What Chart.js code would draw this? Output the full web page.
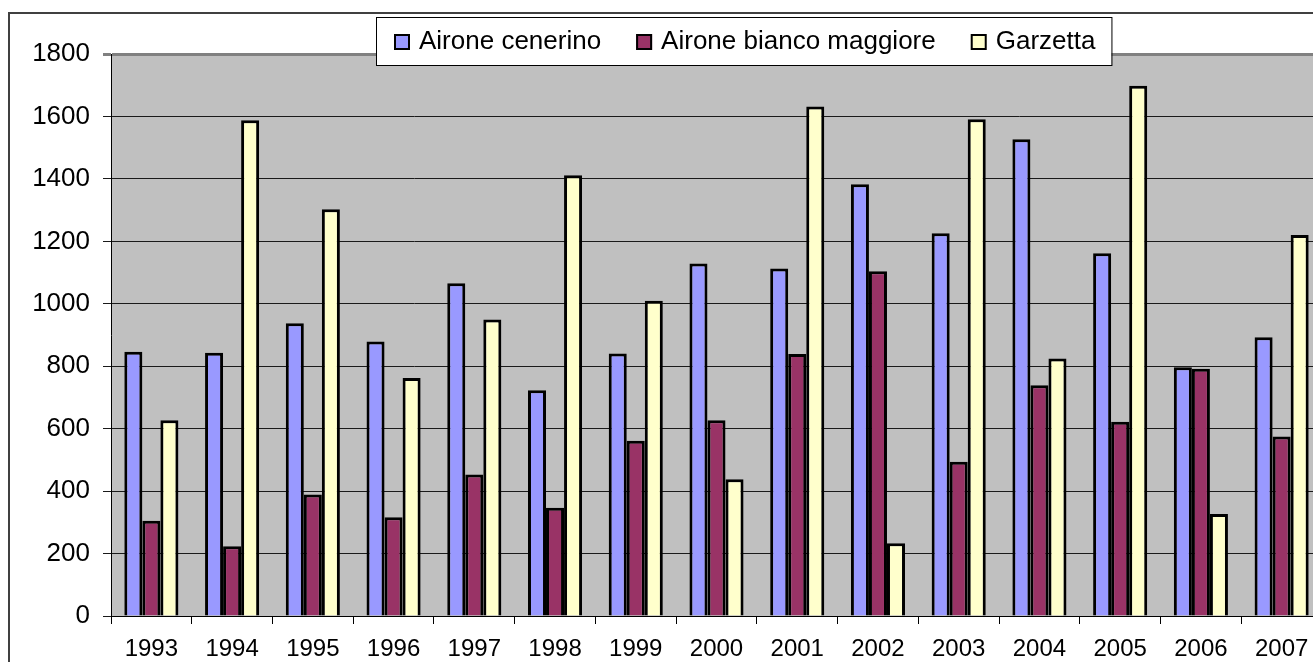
<!DOCTYPE html>
<html>
<head>
<meta charset="utf-8">
<script src="https://cdn.jsdelivr.net/npm/chart.js@4"></script>
<style>
  html, body { margin: 0; padding: 0; background: #fff; overflow: hidden; }
  #wrap { width: 1330px; height: 662px; }
</style>
</head>
<body>
<div id="wrap"><canvas id="heronChart" width="1330" height="662"></canvas></div>
<script>
const years = ["1993", "1994", "1995", "1996", "1997", "1998", "1999", "2000",
    "2001", "2002", "2003", "2004", "2005", "2006", "2007"];
const aironeCenerino = [846, 843, 938, 879, 1066, 723, 841, 1129, 1113, 1383, 1226, 1527, 1162, 797, 893];
const aironeBianco = [305, 223, 389, 316, 453, 347, 561, 627, 839, 1104, 494, 739, 622, 792, 575];
const garzetta = [627, 1588, 1303, 762, 950, 1412, 1010, 438, 1632, 233, 1591, 825, 1698, 327, 1220];
const yTicks = [0, 200, 400, 600, 800, 1000, 1200, 1400, 1600, 1800];

const FONT = "'Liberation Sans', Arial, sans-serif";

// outer frame + grey plot background
const backdrop = {
    id: "backdrop",
    beforeDraw(chart) {
        const ctx = chart.ctx;
        const a = chart.chartArea;
        ctx.save();
        ctx.strokeStyle = "#404040";
        ctx.lineWidth = 2;
        ctx.strokeRect(9, 13, 2000, 2000);
        ctx.fillStyle = "#c0c0c0";
        ctx.fillRect(a.left, a.top, a.right - a.left, a.bottom - a.top);
        ctx.restore();
    },
};

// Excel-style legend box sitting over the plot area
const boxLegend = {
    id: "boxLegend",
    afterDraw(chart) {
        const ctx = chart.ctx;
        const left = 376, top = 17, height = 48, box = 16;
        ctx.save();
        ctx.font = "26px " + FONT;
        ctx.textBaseline = "middle";
        let x = left + 18;
        const items = chart.data.datasets.map(ds => {
            const it = { ds, x };
            x += box + 9 + ctx.measureText(ds.label).width + 35;
            return it;
        });
        const width = x - 35 + 16 - left;
        ctx.fillStyle = "#fff";
        ctx.fillRect(left, top, width, height);
        ctx.strokeStyle = "#000";
        ctx.lineWidth = 1;
        ctx.strokeRect(left + 0.5, top + 0.5, width, height);
        items.forEach(it => {
            const cy = top + height / 2 + 1;
            ctx.fillStyle = it.ds.backgroundColor;
            ctx.fillRect(it.x, cy - box / 2, box, box);
            ctx.lineWidth = 2;
            ctx.strokeRect(it.x + 1, cy - box / 2 + 1, box - 2, box - 2);
            ctx.fillStyle = "#000";
            ctx.fillText(it.ds.label, it.x + box + 9, cy);
        });
        ctx.restore();
    },
};

const ctx = document.getElementById("heronChart").getContext("2d");
new Chart(ctx, {
    type: "bar",
    data: {
        labels: years,
        datasets: [
            {
                label: "Airone cenerino",
                data: aironeCenerino,
                backgroundColor: "#9999ff",
            },
            {
                label: "Airone bianco maggiore",
                data: aironeBianco,
                backgroundColor: "#993366",
            },
            {
                label: "Garzetta",
                data: garzetta,
                backgroundColor: "#ffffcc",
            },
        ],
    },
    options: {
        responsive: false,
        animation: false,
        layout: { padding: { left: 0, top: 54, right: 8, bottom: 0 } },
        datasets: {
            bar: {
                borderColor: "#000",
                borderWidth: 3,
                borderSkipped: "bottom",
                categoryPercentage: 0.67,
                barPercentage: 1,
            },
        },
        plugins: {
            legend: { display: false },
            tooltip: { enabled: false },
        },
        scales: {
            x: {
                afterFit(scale) { scale.height = 46; },
                grid: {
                    offset: true,
                    drawOnChartArea: false,
                    color: "#000",
                    tickLength: 8,
                },
                border: { color: "#000", width: 1 },
                ticks: {
                    color: "#000",
                    font: { family: FONT, size: 24 },
                    padding: 11,
                    maxRotation: 0,
                    autoSkip: false,
                },
            },
            y: {
                min: 0,
                max: 1800,
                afterFit(scale) { scale.width = 111; },
                afterBuildTicks(scale) { scale.ticks = yTicks.map(v => ({ value: v })); },
                grid: {
                    color: ctx => (ctx.tick && ctx.tick.value === 1800 ? "#808080" : "#1a1a1a"),
                    lineWidth: ctx => (ctx.tick && ctx.tick.value === 1800 ? 3 : 1),
                    tickLength: 8,
                },
                border: { color: "#000", width: 1 },
                ticks: {
                    color: "#000",
                    font: { family: FONT, size: 26 },
                    padding: 13,
                    callback: v => String(v),
                },
            },
        },
    },
    plugins: [backdrop, boxLegend],
});
</script>
</body>
</html>
